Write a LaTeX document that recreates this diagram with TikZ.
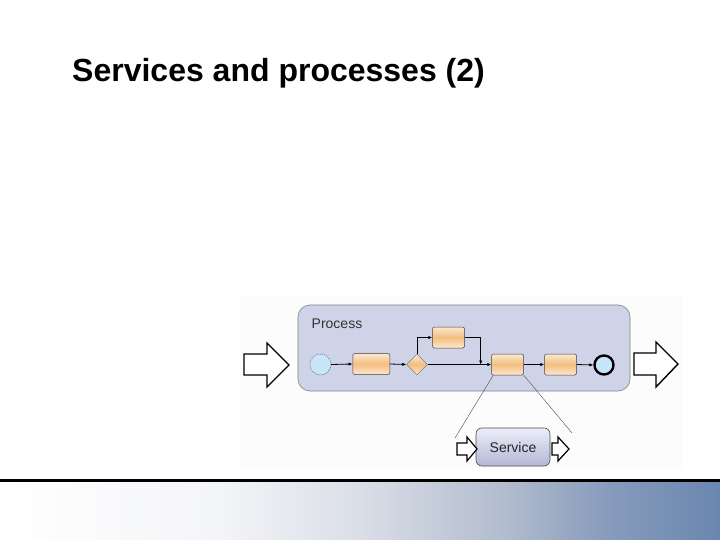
\documentclass[tikz,border=0pt]{standalone}
\usepackage{fontspec}
\setmainfont{Liberation Sans}
\usetikzlibrary{arrows.meta,shapes.geometric}
\definecolor{procfill}{RGB}{206,211,232}
\definecolor{procdraw}{RGB}{130,130,140}
\definecolor{taskLight}{RGB}{253,232,206}
\definecolor{taskMid}{RGB}{243,190,128}
\definecolor{startfill}{RGB}{200,230,250}
\definecolor{servTop}{RGB}{236,238,248}
\definecolor{servBot}{RGB}{178,183,214}
\definecolor{bgray}{RGB}{252,252,252}
\definecolor{fa}{RGB}{244,245,248}
\definecolor{fb}{RGB}{218,222,231}
\definecolor{fc}{RGB}{178,188,206}
\definecolor{fd}{RGB}{136,156,188}
\definecolor{fe}{RGB}{106,134,176}
\pgfdeclarehorizontalshading{footshade}{100bp}{
  color(0bp)=(white);
  color(25bp)=(white);
  color(40bp)=(fa);
  color(50bp)=(fb);
  color(60bp)=(fc);
  color(67bp)=(fd);
  color(75bp)=(fe);
  color(100bp)=(fe)}
\tikzset{
  taskbox/.style={draw=black!75, line width=0.5pt, rounded corners=2pt,
    top color=taskLight, bottom color=taskLight, middle color=taskMid,
    minimum width=32pt, minimum height=21pt, inner sep=0pt},
  flow/.style={line width=0.8pt, -{Latex[length=4pt,width=3.5pt]}},
  bigarrow/.style={draw=black, line width=1.4pt, fill=white, line join=miter},
  smallarrow/.style={draw=black, line width=1.2pt, fill=white, line join=miter},
  thinline/.style={draw=black!70, line width=0.4pt}
}
\begin{document}
\begin{tikzpicture}[x=1pt,y=-1pt]
\useasboundingbox (0,0) rectangle (720,540);
% title
\node[anchor=base west, inner sep=0pt, font=\fontsize{32}{36}\selectfont\bfseries] (title) at (72,82) {Services and processes (2)};
% picture background
\fill[bgray] (240,296) rectangle (683,470);
% process box
\node[draw=procdraw, line width=0.6pt, fill=procfill, rounded corners=12pt,
  minimum width=332pt, minimum height=86pt, inner sep=0pt] (proc) at (464,348) {};
\node[anchor=base west, inner sep=0pt, font=\fontsize{14}{16}\selectfont, text=black!80] (ptext) at (311.5,328) {Process};
% big arrows
\draw[bigarrow] (244,354) -- (267,354) -- (267,343) -- (289,365) -- (267,387) -- (267,375) -- (244,375) -- cycle;
\draw[bigarrow] (634,353) -- (656,353) -- (656,342) -- (678,364) -- (656,387) -- (656,375) -- (634,375) -- cycle;
% elements
\node[circle, draw=black!70, dashed, dash pattern=on 1pt off 1pt, line width=0.4pt, fill=startfill,
  minimum size=21pt, inner sep=0pt] (start) at (320.5,364.5) {};
\node[taskbox, minimum width=37pt] (t1) at (371.3,364) {};
\node[diamond, draw=black!60, line width=0.4pt, top color=taskLight, bottom color=taskLight, middle color=taskMid,
  minimum width=21pt, minimum height=21pt, inner sep=0pt] (gw) at (417,364.5) {};
\node[taskbox] (tu) at (448.5,337.5) {};
\node[taskbox] (t3) at (507.5,364.5) {};
\node[taskbox] (t4) at (560.5,364.5) {};
\node[circle, draw=black, line width=2.4pt, fill=startfill, minimum size=19pt, inner sep=0pt] (end) at (604,365) {};
% flows
\draw[flow] (start.east) -- (t1.west);
\draw[flow] (t1.east) -- (gw.west);
\draw[flow] (gw.east) -- (t3.west);
\draw[flow] (gw.north) |- (tu.west);
\coordinate (join) at (480.7,364.5);
\draw[flow] (tu.east) -| (join);
\draw[flow] (t3.east) -- (t4.west);
\draw[flow] (t4.east) -- (end.west);
% service
\node[draw=black!70, line width=0.6pt, rounded corners=6pt, top color=servTop, bottom color=servBot,
  minimum width=74pt, minimum height=38pt, inner sep=0pt,
  font=\fontsize{14}{16}\selectfont, text=black!85] (serv) at (513,447) {Service};
\coordinate (la) at (455,438);
\coordinate (lb) at (572,433);
\draw[thinline] (t3.south west) ++(2,0) -- (la);
\draw[thinline] (t3.south east) -- (lb);
\draw[smallarrow] (457,443) -- (467,443) -- (467,437) -- (477,449) -- (467,461) -- (467,455) -- (457,455) -- cycle;
\draw[smallarrow] (552,443) -- (558,443) -- (558,437) -- (569,449) -- (558,461) -- (558,455) -- (552,455) -- cycle;
% footer
\shade[shading=footshade] (0,482) rectangle (720,540);
\fill[black] (0,479) rectangle (720,482);
\end{tikzpicture}
\end{document}
